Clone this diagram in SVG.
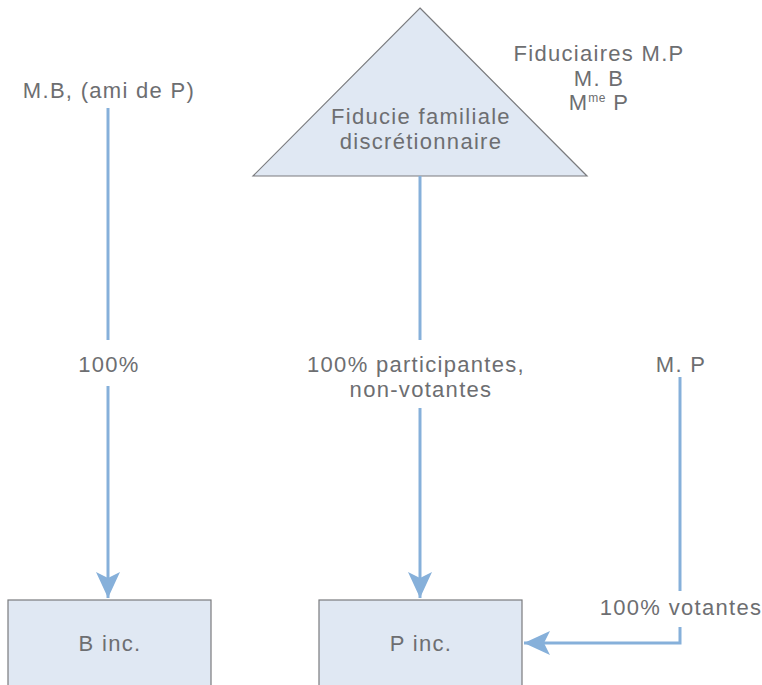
<svg xmlns="http://www.w3.org/2000/svg" width="762" height="685" viewBox="0 0 762 685">
<style>
.t{font-family:"Liberation Sans",Arial,sans-serif;font-size:22px;letter-spacing:1.3px;fill:#6d6e71;text-anchor:middle}
.n{fill:#e0e8f3;stroke:#7a7b7e;stroke-width:1.2}
.c{fill:none;stroke:#86b0da;stroke-width:3}
</style>
<defs>
<marker id="ah" markerUnits="userSpaceOnUse" markerWidth="30" markerHeight="30" viewBox="-2 -14 30 28" refX="26" refY="0" orient="auto">
<path d="M0,-12 L26,0 L0,12 L6,0 Z" fill="#86b0da"/>
</marker>
</defs>
<rect width="762" height="685" fill="#fff"/>
<g id="fiducie">
<polygon class="n" points="420,8 587,176 253,176"/>
<text class="t" x="421" y="124">Fiducie familiale</text>
<text class="t" x="421" y="149">discrétionnaire</text>
</g>
<g id="fiduciaires">
<text class="t" x="599" y="61">Fiduciaires M.P</text>
<text class="t" x="599" y="86">M. B</text>
<text class="t" x="599" y="110">M<tspan font-size="12" letter-spacing="0.5" dy="-8">me</tspan><tspan dy="8"> P</tspan></text>
</g>
<g id="mb">
<text class="t" x="109" y="98">M.B, (ami de P)</text>
</g>
<g id="mp">
<text class="t" x="681" y="372">M. P</text>
</g>
<g id="binc">
<rect class="n" x="8" y="600" width="203" height="95"/>
<text class="t" x="110" y="651">B inc.</text>
</g>
<g id="pinc">
<rect class="n" x="319" y="600" width="203" height="95"/>
<text class="t" x="421" y="651">P inc.</text>
</g>
<g id="connectors">
<line class="c" x1="108" y1="108" x2="108" y2="340"/>
<path class="c" d="M108,386 L108,598" marker-end="url(#ah)"/>
<text class="t" x="109" y="372">100%</text>
<line class="c" x1="420" y1="176" x2="420" y2="340"/>
<path class="c" d="M420,408 L420,598" marker-end="url(#ah)"/>
<text class="t" x="416" y="372">100% participantes,</text>
<text class="t" x="421" y="397">non-votantes</text>
<line class="c" x1="680" y1="377" x2="680" y2="591"/>
<path class="c" d="M680,627 L680,643 L524,643" marker-end="url(#ah)"/>
<text class="t" x="681" y="615">100% votantes</text>
</g>
</svg>
